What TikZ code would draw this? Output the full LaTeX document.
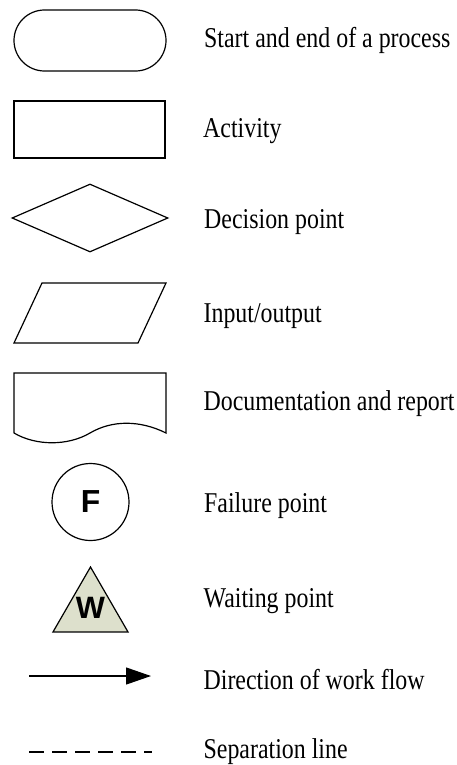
\documentclass[tikz,border=0pt]{standalone}
\usepackage{fontspec}
\setmainfont{Liberation Serif}
\newfontfamily\symfont{Liberation Sans}
\newfontfamily\lblfont[FakeStretch=0.833]{Liberation Serif}
\usetikzlibrary{shapes.geometric,shapes.misc,arrows.meta,positioning}
\definecolor{waitfill}{HTML}{DDE0CC}
\begin{document}
\begin{tikzpicture}[x=1bp, y=-1bp, line width=1.2bp, node distance={37bp}]
                \tikzstyle{terminal} = [draw, rounded rectangle, minimum width=152bp, minimum height=61bp, inner sep=0pt]
                \tikzstyle{activity} = [draw, rectangle, minimum width=151bp, minimum height=57bp, inner sep=0pt]
                \tikzstyle{decision} = [draw, diamond, minimum width=156bp, minimum height=68bp, inner sep=0pt]
                \tikzstyle{failure} = [draw, circle, minimum size=77bp, inner sep=0pt, font=\symfont\bfseries\fontsize{32}{32}\selectfont]
                \tikzstyle{waiting} = [draw, fill=waitfill, regular polygon, regular polygon sides=3, minimum size=86.6bp, inner sep=0pt]
                \tikzstyle{wtext} = [inner sep=0pt, font=\symfont\bfseries\fontsize{31}{31}\selectfont]
                \tikzstyle{lbl} = [anchor=west, inner sep=0pt, font=\lblfont\fontsize{28.8}{30}\selectfont]
                    \useasboundingbox (0,0) rectangle (457,765);

                    \node[terminal] (start) at (90,40.5) { };
                    \node[activity] (act) at (89.5,129.5) { };
                    \node[decision] (dec) at (90,218) { };
                    \node[failure] (fail) at (90.5,502) {F};
                    \node[waiting] (wait) at (90.5,610.3) { };
                    \node[wtext] (wlet) at (90.5,607.5) {W};

                    % input/output and document
                    \draw (14,343) -- (42,283) -- (166,283) -- (138,343) -- cycle;
                    \draw (14,433) -- (14,373) -- (166,373) -- (166,433)
                        .. controls (140,420) and (112,420) .. (90,433)
                        .. controls (68,446) and (36,446) .. (14,433);

                    \coordinate (io) at (166,316);
                    \coordinate (doc) at (166,404);
                    \coordinate (flowA) at (29,676);
                    \coordinate (flowB) at (151,676);
                    \coordinate (sepA) at (29,752);
                    \coordinate (sepB) at (152,752);

                    \draw[-{Triangle[length=25bp,width=17bp]}] (flowA) to (flowB);
                    \draw[dash pattern=on 15bp off 8bp] (sepA) to (sepB);

                    \node[lbl] (startlbl) [right=of start] {Start and end of a process};
                    \node[lbl] (actlbl) [right=of act.east, yshift=-1.5bp] {Activity};
                    \node[lbl] (declbl) [right=35bp of dec, yshift=-4bp] {Decision point};
                    \node[lbl] (iolbl) [right=of io] {Input/output};
                    \node[lbl] (doclbl) [right=of doc] {Documentation and report};
                    \node[lbl] (faillbl) [right=74bp of fail, yshift=-4bp] {Failure point};
                    \node[lbl] (waitlbl) at (203,601) {Waiting point};
                    \node[lbl] (flowlbl) [right=52bp of flowB, yshift=-3.5bp] {Direction of work flow};
                    \node[lbl] (seplbl) [right=51bp of sepB] {Separation line};

                \end{tikzpicture}
\end{document}
